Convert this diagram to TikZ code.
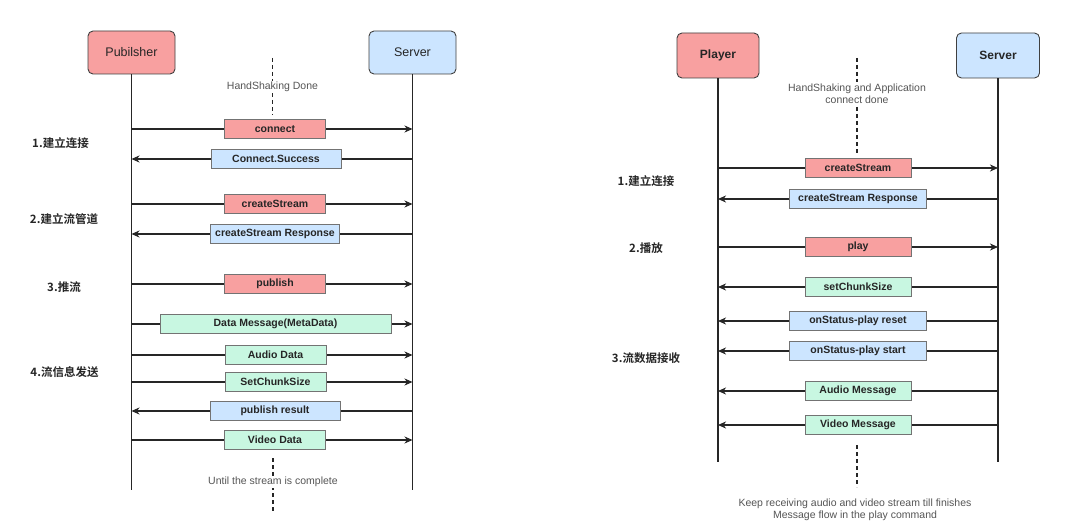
\documentclass[tikz,border=0pt]{standalone}
\usepackage{fontspec}
\setmainfont{Liberation Sans}
\newfontfamily\cjk[BoldFont={Noto Sans CJK SC Bold}]{Noto Sans CJK SC}
\usetikzlibrary{arrows.meta}
\definecolor{pinkf}{HTML}{F8A0A0}
\definecolor{bluef}{HTML}{CCE5FF}
\definecolor{greenf}{HTML}{C8F7E1}
\definecolor{noteg}{HTML}{555555}
\begin{document}
\begin{tikzpicture}[x=1pt,y=-1pt,
  actor/.style={draw=black!75, rounded corners=5pt, line width=0.9pt, minimum width=87pt, minimum height=43pt, inner sep=0pt, font=\fontsize{12.5}{14}\selectfont, text=black!85},
  life/.style={line width=1.4pt, black!85},
  msgbox/.style={draw=black!55, line width=0.8pt, minimum height=18.5pt, inner sep=0pt, font=\bfseries\fontsize{10.5}{12}\selectfont, text=black!85},
  arr/.style={line width=1.3pt, black!85, -{Stealth[length=8pt,width=7pt,inset=2.5pt]}},
  dotline/.style={line width=1.4pt, black!85, dash pattern=on 4pt off 3pt},
  note/.style={fill=white, text=noteg, font=\fontsize{10.5}{12.5}\selectfont, inner sep=1.5pt, align=center},
  phase/.style={font=\cjk\bfseries\fontsize{11.5}{13}\selectfont, text=black!85}
]
\useasboundingbox[fill=white] (0,0) rectangle (1080,527);

% ---------------- left diagram ----------------
\node[actor, fill=pinkf] (pub) at (131.5,52.5) {Pubilsher};
\node[actor, fill=bluef] (srvL) at (412.5,52.5) {Server};
\draw[life] (pub.south) -- (pub.south |- 0,490);
\draw[life] (srvL.south) -- (srvL.south |- 0,490);

\coordinate (hsT) at (272.5,58);
\coordinate (hsB) at (272.5,115);
\draw[dotline] (hsT) -- (hsB);
\node[note] (hs) at (272.5,87) {HandShaking Done};

\draw[arr] (pub.south |- 0,129) -- (srvL.south |- 0,129)
  node[midway, xshift=3pt, msgbox, fill=pinkf, minimum width=101pt] (m1) {connect};
\draw[arr] (srvL.south |- 0,159) -- (pub.south |- 0,159)
  node[midway, xshift=4pt, msgbox, fill=bluef, minimum width=130pt] (m2) {Connect.Success};
\draw[arr] (pub.south |- 0,204) -- (srvL.south |- 0,204)
  node[midway, xshift=3pt, msgbox, fill=pinkf, minimum width=101pt] (m3) {createStream};
\draw[arr] (srvL.south |- 0,234) -- (pub.south |- 0,234)
  node[midway, xshift=3pt, msgbox, fill=bluef, minimum width=129pt] (m4) {createStream Response};
\draw[arr] (pub.south |- 0,284) -- (srvL.south |- 0,284)
  node[midway, xshift=3pt, msgbox, fill=pinkf, minimum width=101pt] (m5) {publish};
\draw[arr] (pub.south |- 0,324) -- (srvL.south |- 0,324)
  node[midway, xshift=3.5pt, msgbox, fill=greenf, minimum width=231pt] (m6) {Data Message(MetaData)};
\draw[arr] (pub.south |- 0,355) -- (srvL.south |- 0,355)
  node[midway, xshift=3.5pt, msgbox, fill=greenf, minimum width=101pt] (m7) {Audio Data};
\draw[arr] (pub.south |- 0,382) -- (srvL.south |- 0,382)
  node[midway, xshift=3.5pt, msgbox, fill=greenf, minimum width=101pt] (m8) {SetChunkSize};
\draw[arr] (srvL.south |- 0,411) -- (pub.south |- 0,411)
  node[midway, xshift=3pt, msgbox, fill=bluef, minimum width=130pt] (m9) {publish result};
\draw[arr] (pub.south |- 0,440) -- (srvL.south |- 0,440)
  node[midway, xshift=3pt, msgbox, fill=greenf, minimum width=101pt] (m10) {Video Data};

\coordinate (ucT) at (273,458);
\coordinate (ucB) at (273,513);
\draw[dotline] (ucT) -- (ucB);
\node[note] (uc) at (273,482) {Until the stream is complete};

\node[phase] (p1) at (60.5,143) {1.建立连接};
\node[phase] (p2) at (64,219) {2.建立流管道};
\node[phase] (p3) at (64,287) {3.推流};
\node[phase] (p4) at (64.5,372) {4.流信息发送};

% ---------------- right diagram ----------------
\node[actor, fill=pinkf, minimum width=82pt, minimum height=45pt, font=\bfseries\fontsize{12}{14}\selectfont] (ply) at (718,55.5) {Player};
\node[actor, fill=bluef, minimum width=83pt, minimum height=45pt, font=\bfseries\fontsize{12}{14}\selectfont] (srvR) at (998,55.5) {Server};
\draw[life] (ply.south) -- (ply.south |- 0,462);
\draw[life] (srvR.south) -- (srvR.south |- 0,462);

\coordinate (haT) at (857,58);
\coordinate (haB) at (857,153);
\draw[dotline] (haT) -- (haB);
\node[note, font=\fontsize{10.5}{11.5}\selectfont] (ha) at (857,93.5) {HandShaking and Application\\connect done};

\tikzset{rbox/.style={msgbox, minimum height=19.5pt}}
\draw[arr] (ply.south |- 0,168) -- (srvR.south |- 0,168)
  node[midway, rbox, fill=pinkf, minimum width=106pt] (r1) {createStream};
\draw[arr] (srvR.south |- 0,199) -- (ply.south |- 0,199)
  node[midway, rbox, fill=bluef, minimum width=137pt] (r2) {createStream Response};
\draw[arr] (ply.south |- 0,247) -- (srvR.south |- 0,247)
  node[midway, rbox, fill=pinkf, minimum width=106pt] (r3) {play};
\draw[arr] (srvR.south |- 0,287) -- (ply.south |- 0,287)
  node[midway, rbox, fill=greenf, minimum width=106pt] (r4) {setChunkSize};
\draw[arr] (srvR.south |- 0,321) -- (ply.south |- 0,321)
  node[midway, rbox, fill=bluef, minimum width=137pt] (r5) {onStatus-play reset};
\draw[arr] (srvR.south |- 0,351) -- (ply.south |- 0,351)
  node[midway, rbox, fill=bluef, minimum width=137pt] (r6) {onStatus-play start};
\draw[arr] (srvR.south |- 0,391) -- (ply.south |- 0,391)
  node[midway, rbox, fill=greenf, minimum width=106pt] (r7) {Audio Message};
\draw[arr] (srvR.south |- 0,425) -- (ply.south |- 0,425)
  node[midway, rbox, fill=greenf, minimum width=106pt] (r8) {Video Message};

\coordinate (krT) at (857,445);
\coordinate (krB) at (857,487);
\draw[dotline] (krT) -- (krB);
\node[note, font=\fontsize{10.5}{11.5}\selectfont] (kr) at (855,510) {Keep receiving audio and video stream till finishes\\Message flow in the play command};

\node[phase] (q1) at (646,181) {1.建立连接};
\node[phase] (q2) at (646,248) {2.播放};
\node[phase] (q3) at (646,358) {3.流数据接收};
\end{tikzpicture}
\end{document}
